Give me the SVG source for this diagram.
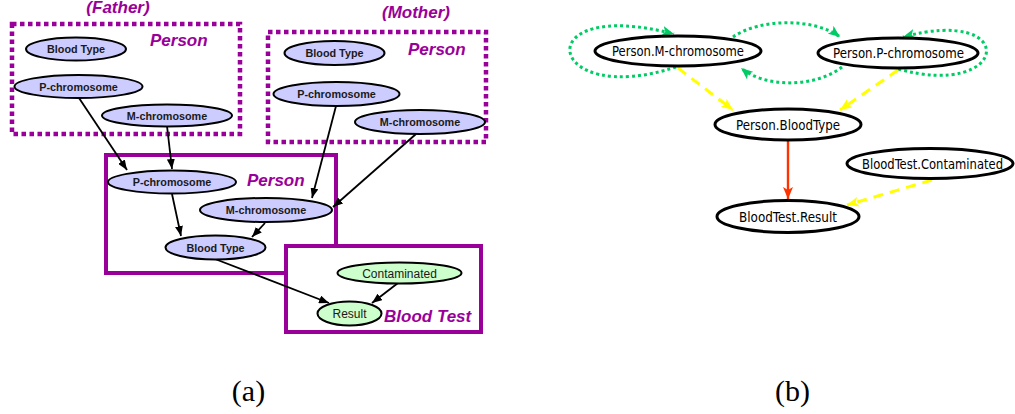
<svg xmlns="http://www.w3.org/2000/svg" width="1015" height="414" viewBox="0 0 1015 414">
  <style>
    .dotbox { fill: none; stroke: #990099; stroke-width: 4.5; stroke-dasharray: 4.5 3.5; }
    .box { fill: #ffffff; stroke: #990099; stroke-width: 4; }
    .plate { font-family: "Liberation Sans", Arial, sans-serif; font-weight: bold; font-style: italic; font-size: 17px; fill: #990099; }
    .nodeA ellipse { fill: #ccccff; stroke: #000; stroke-width: 2; }
    .nodeG ellipse { fill: #ccffcc; stroke: #000; stroke-width: 2; }
    .nodeA text { font-family: "Liberation Sans", Arial, sans-serif; font-weight: bold; font-size: 10.8px; fill: #1a1a1a; text-anchor: middle; }
    .nodeG text { font-family: "Liberation Sans", Arial, sans-serif; font-size: 12px; fill: #1a1a1a; text-anchor: middle; }
    .edgeA { stroke: #000; stroke-width: 1.8; fill: none; marker-end: url(#arrA); }
    .nodeB ellipse { fill: #ffffff; stroke: #000; stroke-width: 3; }
    .nodeB text { font-family: "DejaVu Sans Condensed", "DejaVu Sans", sans-serif; font-size: 14px; fill: #000; text-anchor: middle; }
    .green { stroke: #00cc66; stroke-width: 3; stroke-dasharray: 3 3; fill: none; marker-end: url(#arrG); }
    .yellow { stroke: #ffff00; stroke-width: 3; stroke-dasharray: 10 7; fill: none; marker-end: url(#arrY); }
    .red { stroke: #ff3300; stroke-width: 2.4; fill: none; marker-end: url(#arrR); }
    .caption { font-family: "Liberation Serif", "Times New Roman", serif; font-size: 30px; fill: #000; text-anchor: middle; }
  </style>
  <defs>
    <marker id="arrA" markerUnits="userSpaceOnUse" markerWidth="10" markerHeight="8" refX="10" refY="4" orient="auto">
      <path d="M0,0 L10,4 L0,8 z" fill="#000"/>
    </marker>
    <marker id="arrG" markerUnits="userSpaceOnUse" markerWidth="12" markerHeight="10" refX="12" refY="5" orient="auto">
      <path d="M0,0 L12,5 L0,10 L3,5 z" fill="#00cc66"/>
    </marker>
    <marker id="arrY" markerUnits="userSpaceOnUse" markerWidth="12" markerHeight="10" refX="12" refY="5" orient="auto">
      <path d="M0,0 L12,5 L0,10 L3,5 z" fill="#ffff00"/>
    </marker>
    <marker id="arrR" markerUnits="userSpaceOnUse" markerWidth="12" markerHeight="10" refX="12" refY="5" orient="auto">
      <path d="M0,0 L12,5 L0,10 L3,5 z" fill="#ff3300"/>
    </marker>
  </defs>

  <!-- (a) plates -->
  <g id="plate-father">
    <rect class="dotbox" x="12" y="24" width="228" height="110"/>
    <text class="plate" x="118" y="13" text-anchor="middle">(Father)</text>
    <text class="plate" x="150" y="46">Person</text>
  </g>
  <g id="plate-mother">
    <rect class="dotbox" x="268" y="32" width="218" height="110"/>
    <text class="plate" x="416" y="18" text-anchor="middle">(Mother)</text>
    <text class="plate" x="408" y="55">Person</text>
  </g>
  <g id="plate-child">
    <rect class="box" x="106" y="155" width="230" height="118"/>
    <text class="plate" x="247" y="186">Person</text>
  </g>
  <g id="plate-bloodtest">
    <rect class="box" x="286" y="246" width="195" height="86"/>
    <text class="plate" x="384" y="322">Blood Test</text>
  </g>

  <!-- (a) connectors -->
  <g id="edges-a">
    <path class="edgeA" d="M79,98 L127,170"/>
    <path class="edgeA" d="M167,126 L172,169"/>
    <path class="edgeA" d="M336,106 L312,198"/>
    <path class="edgeA" d="M416,134 L333,207"/>
    <path class="edgeA" d="M172,194 L181,236"/>
    <path class="edgeA" d="M265,223 L252,237"/>
    <path class="edgeA" d="M215,259 L329,303"/>
    <path class="edgeA" d="M398,283 L372,303"/>
  </g>

  <!-- (a) nodes -->
  <g id="father-bloodtype" class="nodeA"><ellipse cx="76" cy="49" rx="50" ry="11.5"/><text x="76" y="53">Blood Type</text></g>
  <g id="father-pchrom" class="nodeA"><ellipse cx="78.5" cy="86.5" rx="64" ry="11.5"/><text x="78.5" y="90.5">P-chromosome</text></g>
  <g id="father-mchrom" class="nodeA"><ellipse cx="167" cy="115.5" rx="65" ry="11"/><text x="167" y="119.5">M-chromosome</text></g>
  <g id="mother-bloodtype" class="nodeA"><ellipse cx="334.5" cy="53" rx="50" ry="12"/><text x="334.5" y="57">Blood Type</text></g>
  <g id="mother-pchrom" class="nodeA"><ellipse cx="336.5" cy="94" rx="63" ry="12"/><text x="336.5" y="98">P-chromosome</text></g>
  <g id="mother-mchrom" class="nodeA"><ellipse cx="420" cy="122" rx="65" ry="12"/><text x="420" y="126">M-chromosome</text></g>
  <g id="child-pchrom" class="nodeA"><ellipse cx="172" cy="182" rx="64" ry="11.5"/><text x="172" y="186">P-chromosome</text></g>
  <g id="child-mchrom" class="nodeA"><ellipse cx="266" cy="210" rx="66" ry="12"/><text x="266" y="214">M-chromosome</text></g>
  <g id="child-bloodtype" class="nodeA"><ellipse cx="215.5" cy="247.5" rx="50" ry="12"/><text x="215.5" y="251.5">Blood Type</text></g>
  <g id="test-contaminated" class="nodeG"><ellipse cx="399.5" cy="273" rx="62" ry="10.5"/><text x="399.5" y="277.5">Contaminated</text></g>
  <g id="test-result" class="nodeG"><ellipse cx="349.5" cy="313.5" rx="32" ry="12"/><text x="349.5" y="318">Result</text></g>

  <!-- (b) connectors -->
  <g id="edges-b">
    <path class="green" d="M676,67 C545,110 525,-5 674,34"/>
    <path class="green" d="M733,37 C760,18 815,18 840,37"/>
    <path class="green" d="M842,67 C815,88 765,88 741,68"/>
    <path class="green" d="M898,69 C1010,100 1020,5 903,37"/>
    <path class="yellow" d="M678,68 L733,110"/>
    <path class="yellow" d="M898,70 L840,110"/>
    <path class="red" d="M788,141 L788,199"/>
    <path class="yellow" d="M932,180 L847,205"/>
  </g>

  <!-- (b) nodes -->
  <g id="b-mchrom" class="nodeB"><ellipse cx="678" cy="51" rx="83" ry="15"/><text x="678" y="56" textLength="132" lengthAdjust="spacingAndGlyphs">Person.M-chromosome</text></g>
  <g id="b-pchrom" class="nodeB"><ellipse cx="898" cy="53" rx="80" ry="15"/><text x="898.5" y="58" textLength="131" lengthAdjust="spacingAndGlyphs">Person.P-chromosome</text></g>
  <g id="b-bloodtype" class="nodeB"><ellipse cx="788" cy="124.5" rx="73" ry="15.5"/><text x="788" y="129.5" textLength="104" lengthAdjust="spacingAndGlyphs">Person.BloodType</text></g>
  <g id="b-contaminated" class="nodeB"><ellipse cx="930" cy="163.5" rx="83" ry="15"/><text x="932.5" y="168.5" textLength="141" lengthAdjust="spacingAndGlyphs">BloodTest.Contaminated</text></g>
  <g id="b-result" class="nodeB"><ellipse cx="788" cy="216.5" rx="71" ry="16"/><text x="788" y="221.5" textLength="98" lengthAdjust="spacingAndGlyphs">BloodTest.Result</text></g>

  <!-- captions -->
  <text class="caption" x="248.5" y="401">(a)</text>
  <text class="caption" x="792.5" y="401">(b)</text>
</svg>
